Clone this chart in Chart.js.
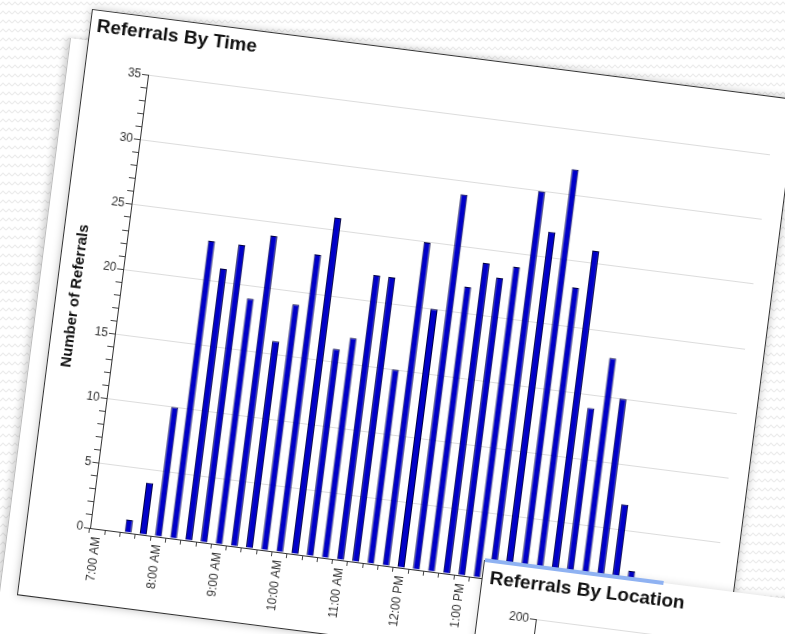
<!DOCTYPE html>
<html lang="en">
<head>
  <meta charset="UTF-8">
  <title>Referrals By Time</title>
  <script src="https://cdn.jsdelivr.net/npm/chart.js"></script>
  <style>
    html, body {
      margin: 0;
      width: 785px;
      height: 634px;
      overflow: hidden;
      background-color: #fff;
      background-image: url("data:image/svg+xml,%3Csvg xmlns='http://www.w3.org/2000/svg' width='6' height='9'%3E%3Cpath d='M0 5 L3 2 L6 5' fill='none' stroke='%23ececec' stroke-width='1.2'/%3E%3C/svg%3E");
      font-family: Arial, "Liberation Sans", sans-serif;
    }
    .panel {
      position: absolute;
      background: #fff;
      transform-origin: 0 0;
      transform: rotate(7.3deg);
    }
    #back {
      left: 70px; top: 38px;
      width: 700px; height: 640px;
      border-left: 1px solid #bbb;
      box-shadow: -3px 0 6px rgba(0,0,0,0.18);
    }
    #main {
      left: 92px; top: 9px;
      width: 709px; height: 589px;
      border: 1.5px solid #333;
      box-shadow: 0 0 9px rgba(0,0,0,0.25);
    }
    #loc {
      left: 484px; top: 560px;
      width: 420px; height: 400px;
      border-left: 1px solid #333;
      box-shadow: 0 0 8px rgba(0,0,0,0.15);
    }
    #loc .band {
      position: absolute;
      left: 0; top: -2px;
      width: 180px; height: 4px;
      background: #8fb2f2;
    }
    canvas { display: block; }
  </style>
</head>
<body>
  <div class="panel" id="back"></div>
  <div class="panel" id="main"><canvas id="timeChart" width="709" height="589"></canvas></div>
  <div class="panel" id="loc"><div class="band"></div><canvas id="locChart" width="420" height="400"></canvas></div>

  <script>
    // 15 minute slots, 7:00 AM - 5:00 PM
    const times = [
      '7:00 AM', '7:15 AM', '7:30 AM', '7:45 AM',
      '8:00 AM', '8:15 AM', '8:30 AM', '8:45 AM',
      '9:00 AM', '9:15 AM', '9:30 AM', '9:45 AM',
      '10:00 AM', '10:15 AM', '10:30 AM', '10:45 AM',
      '11:00 AM', '11:15 AM', '11:30 AM', '11:45 AM',
      '12:00 PM', '12:15 PM', '12:30 PM', '12:45 PM',
      '1:00 PM', '1:15 PM', '1:30 PM', '1:45 PM',
      '2:00 PM', '2:15 PM', '2:30 PM', '2:45 PM',
      '3:00 PM', '3:15 PM', '3:30 PM', '3:45 PM',
      '4:00 PM', '4:15 PM', '4:30 PM', '4:45 PM',
      '5:00 PM'
    ];
    const referrals = [
      null, null, 1, 4,
      10, 23, 21, 23,
      19, 24, 16, 19,
      23, 26, 16, 17,
      22, 22, 15, 25,
      20, 29, 22, 24,
      23, 24, 30, 27,
      32, 23, 26, 14,
      18, 15, 7, 2,
      null, null, null, null,
      null
    ];
    const hourLabels = ['7:00 AM', '8:00 AM', '9:00 AM', '10:00 AM', '11:00 AM', '12:00 PM',
                        '1:00 PM', '2:00 PM', '3:00 PM', '4:00 PM', '5:00 PM'];
    const yMax = 35;
    const locationMax = 200;

    const axisFont = { family: 'Arial, "Liberation Sans", sans-serif', size: 12 };

    new Chart(document.getElementById('timeChart'), {
      type: 'bar',
      data: {
        labels: times,
        datasets: [{
          label: 'Number of Referrals',
          data: referrals,
          backgroundColor: '#0000c8',
          borderColor: '#000040',
          borderWidth: 1,
          barPercentage: 0.46,
          categoryPercentage: 1.0
        }]
      },
      options: {
        responsive: false,
        animation: false,
        layout: { padding: { left: 6, right: 19, top: 0, bottom: 0 } },
        plugins: {
          legend: { display: false },
          tooltip: { enabled: false },
          title: {
            display: true,
            text: 'Referrals By Time',
            align: 'start',
            color: '#111',
            font: { family: 'Arial, "Liberation Sans", sans-serif', size: 19, weight: 'bold' },
            padding: { top: 4, bottom: 30.7 }
          }
        },
        scales: {
          x: {
            afterFit: s => { s.height = 75; },
            grid: {
              offset: true,
              drawOnChartArea: false,
              color: 'rgba(0,0,0,0)',
              tickColor: '#444',
              tickLength: 5
            },
            border: { color: '#333', width: 1 },
            ticks: {
              autoSkip: false,
              maxRotation: 90,
              minRotation: 90,
              padding: 3,
              color: '#333',
              font: axisFont,
              callback: (v, i) => hourLabels.includes(times[i]) ? times[i] : ''
            }
          },
          y: {
            min: 0,
            max: yMax,
            afterFit: s => { s.width = 57; },
            title: {
              display: true,
              text: 'Number of Referrals',
              color: '#111',
              font: { family: 'Arial, "Liberation Sans", sans-serif', size: 15, weight: 'bold' },
              padding: { top: 4, bottom: 0 }
            },
            grid: {
              color: c => (c.tick && c.tick.value % 5 === 0 && c.tick.value !== 0) ? '#dcdcdc' : 'rgba(0,0,0,0)',
              tickColor: '#444',
              tickLength: 6
            },
            border: { color: '#333', width: 1 },
            ticks: {
              stepSize: 1,
              autoSkip: false,
              padding: 1,
              color: '#333',
              font: axisFont,
              callback: v => v % 5 === 0 ? v : ''
            }
          }
        }
      }
    });

    // second chart, only its top edge is in view
    new Chart(document.getElementById('locChart'), {
      type: 'bar',
      data: { labels: [], datasets: [] },
      options: {
        responsive: false,
        animation: false,
        layout: { padding: { left: 7, right: 10, top: 0, bottom: 0 } },
        plugins: {
          legend: { display: false },
          tooltip: { enabled: false },
          title: {
            display: true,
            text: 'Referrals By Location',
            align: 'start',
            color: '#111',
            font: { family: 'Arial, "Liberation Sans", sans-serif', size: 19, weight: 'bold' },
            padding: { top: 6, bottom: 24 }
          }
        },
        scales: {
          x: { display: false },
          y: {
            min: 0,
            max: locationMax,
            afterFit: s => { s.width = 51; },
            grid: {
              color: c => (c.tick && c.tick.value !== 0) ? '#dcdcdc' : 'rgba(0,0,0,0)',
              tickColor: '#444',
              tickLength: 6
            },
            border: { color: '#333', width: 1 },
            ticks: {
              stepSize: 50,
              padding: 1,
              color: '#333',
              font: axisFont
            }
          }
        }
      }
    });
  </script>
</body>
</html>
